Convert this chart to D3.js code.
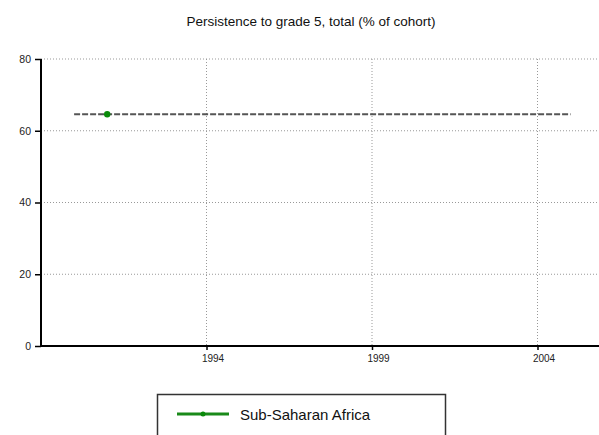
<!DOCTYPE html>
<html>
<head>
<meta charset="utf-8">
<script src="https://cdn.jsdelivr.net/npm/d3@7"></script>
<style>
  body { margin: 0; background: #fff; }
  svg { display: block; font-family: "Liberation Sans", Arial, sans-serif; }
</style>
</head>
<body>
<div id="chart"></div>
<script>
// chart data
var years = [1991];
var values = [64.6];
var avgYears = [1990, 2005];   // dashed reference line
var avgValues = [64.6, 64.6];
var yTicks = [0, 20, 40, 60, 80];
var xTicks = [1994, 1999, 2004];
var seriesName = "Sub-Saharan Africa";
var title = "Persistence to grade 5, total (% of cohort)";

var width = 599, height = 435;
var margin = { top: 59, right: 0, bottom: 89, left: 41 };

var svg = d3.select("#chart").append("svg")
    .attr("width", width)
    .attr("height", height);

var x = d3.scaleLinear().domain([1989, 2006]).range([margin.left, margin.left + 17 * 33.1]);
var y = d3.scaleLinear().domain([0, 80]).range([height - margin.bottom, margin.top]);

// title
svg.append("text")
    .attr("x", 311).attr("y", 26)
    .attr("text-anchor", "middle")
    .style("font-size", "13.5px")
    .style("fill", "#111")
    .text(title);

// gridlines
svg.append("g").selectAll("line")
    .data(yTicks.filter(d => d > 0))
    .enter().append("line")
    .attr("x1", margin.left).attr("x2", width)
    .attr("y1", d => y(d)).attr("y2", d => y(d))
    .attr("stroke", "#999").attr("stroke-width", 1)
    .attr("stroke-dasharray", "1,2");

svg.append("g").selectAll("line")
    .data(xTicks)
    .enter().append("line")
    .attr("x1", d => x(d)).attr("x2", d => x(d))
    .attr("y1", y(80)).attr("y2", y(0))
    .attr("stroke", "#999").attr("stroke-width", 1)
    .attr("stroke-dasharray", "1,2");

// axes
var yAxis = svg.append("g")
    .attr("transform", `translate(${margin.left},0)`)
    .call(d3.axisLeft(y).tickValues(yTicks).tickSize(6).tickFormat(d3.format("d")));
yAxis.select(".domain").attr("stroke", "#000").attr("stroke-width", 2).attr("d", `M0,${y(80)}V${y(0) + 1}`);
yAxis.selectAll(".tick line").attr("stroke", "#000").attr("stroke-width", 1.5);
yAxis.selectAll("text").style("font-size", "10.5px").attr("x", -10).attr("fill", "#222");

var xAxis = svg.append("g")
    .attr("transform", `translate(0,${y(0)})`)
    .call(d3.axisBottom(x).tickValues(xTicks).tickSize(4).tickFormat(d3.format("d")));
xAxis.select(".domain").attr("stroke", "#000").attr("stroke-width", 2).attr("d", `M${margin.left - 1},0H${width}`);
xAxis.selectAll(".tick line").attr("stroke", "#000").attr("stroke-width", 1.5);
xAxis.selectAll("text").style("font-size", "10px").attr("dx", 6).attr("dy", "0.9em").attr("fill", "#222");

// dashed reference line
var avgData = avgYears.map((d, i) => ({ year: d, value: avgValues[i] }));
svg.append("path")
    .datum(avgData)
    .attr("fill", "none")
    .attr("stroke", "#555")
    .attr("stroke-width", 2)
    .attr("stroke-dasharray", "6,2")
    .attr("d", d3.line().x(d => x(d.year)).y(d => y(d.value)));

// series points
var data = years.map((d, i) => ({ year: d, value: values[i] }));
svg.append("path")
    .datum(data)
    .attr("fill", "none")
    .attr("stroke", "#1a8a1a")
    .attr("stroke-width", 3)
    .attr("d", d3.line().x(d => x(d.year)).y(d => y(d.value)));
svg.selectAll(".dot")
    .data(data)
    .enter().append("circle")
    .attr("class", "dot")
    .attr("cx", d => x(d.year))
    .attr("cy", d => y(d.value))
    .attr("r", 3.2)
    .attr("fill", "#0a8a0a");

// legend
var legend = svg.append("g");
legend.append("rect")
    .attr("x", 157.5).attr("y", 394.5)
    .attr("width", 288).attr("height", 50)
    .attr("fill", "#fff")
    .attr("stroke", "#333").attr("stroke-width", 1.5);
legend.append("line")
    .attr("x1", 177).attr("x2", 229)
    .attr("y1", 414).attr("y2", 414)
    .attr("stroke", "#1a8a1a").attr("stroke-width", 3);
legend.append("circle")
    .attr("cx", 203).attr("cy", 414).attr("r", 2.5)
    .attr("fill", "#0a8a0a");
legend.append("text")
    .attr("x", 240).attr("y", 420)
    .style("font-size", "15px")
    .style("fill", "#111")
    .text(seriesName);
</script>
</body>
</html>
